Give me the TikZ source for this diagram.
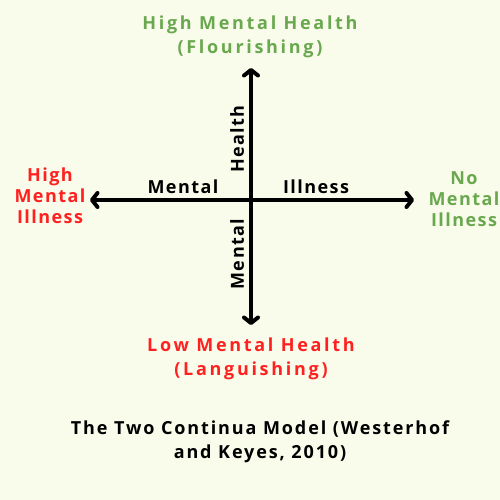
\documentclass[tikz,border=0pt]{standalone}
\usepackage{fontspec}
\setmainfont{Open Sans}[BoldFont={* Bold},LetterSpace=8]
\newfontfamily\polefont{Open Sans Bold}[LetterSpace=15]
\newfontfamily\captionfont{Open Sans Bold}[LetterSpace=10.5]
\usetikzlibrary{arrows.meta}
\definecolor{bgcream}{HTML}{F9FCEB}
\definecolor{goodgreen}{HTML}{6AA84F}
\definecolor{badred}{HTML}{FF2020}
\begin{document}
\begin{tikzpicture}
[x=1pt,y=-1pt,
  poledecorate/.style={font=\polefont\fontsize{18}{24}\selectfont,align=center,inner sep=0pt},%
  sidedecorate/.style={font=\bfseries\fontsize{18}{21}\selectfont,align=center,inner sep=0pt},
  axisdecorate/.style={font=\bfseries\fontsize{18}{21}\selectfont,inner sep=0pt,text=black},
  linedecorate/.style={line width=4pt,-{Straight Barb[length=5.5pt,width=14pt,round]}}]
\useasboundingbox[fill=bgcream] (0,0) rectangle (500,500);
%% ends of the two continua
\coordinate (C) at (251,200);
\foreach \nodename/\x/\y in {N/251/68, S/251/325, W/90/200, E/414/200}
{
  \coordinate (\nodename) at (\x,\y);
}
%% poles
\node (flourish) at (250,36.5) [poledecorate,text=goodgreen]
  {High Mental Health\\(Flourishing)};
\node (languish) at (251,358.5) [poledecorate,text=badred]
  {Low Mental Health\\(Languishing)};
\node (highill) at (50,196) [sidedecorate,text=badred] {High\\Mental\\Illness};
\node (noill) at (464,199) [sidedecorate,text=goodgreen] {No\\Mental\\Illness};
%% axis names
\node (mentalh) at (183,187) [axisdecorate] {Mental};
\node (illness) at (316,187) [axisdecorate] {Illness};
\node (health) at (237,139) [axisdecorate,rotate=90] {Health};
\node (mentalv) at (237,254) [axisdecorate,rotate=90] {Mental};
%% arrows
\path
\foreach \startnode/\endnode in {C/N, C/S, C/W, C/E}
{
  (\startnode) edge[linedecorate] (\endnode)
};
%% caption
\node (caption) at (260,441.5) [poledecorate,text=black,font=\captionfont\fontsize{18}{24}\selectfont]
  {The Two Continua Model (Westerhof\\and Keyes, 2010)};
\end{tikzpicture}
\end{document}
